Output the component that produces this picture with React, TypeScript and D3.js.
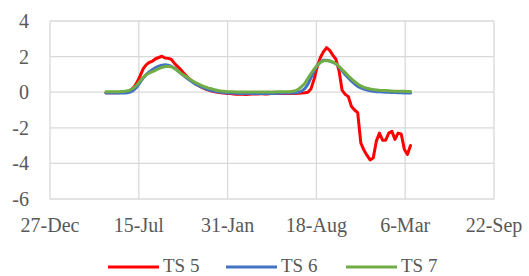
import React from "react";
import * as d3 from "d3";

const W = 529;
const H = 276;

// first observation and weekly step
const startDate = new Date(2019, 4, 2);
const stepDays = 7;

const ts5 = [
  -0.03, -0.03, -0.03, -0.03, -0.03, -0.02, 0.0, 0.03, 0.12, 0.28,
  0.55, 0.92, 1.32, 1.55, 1.68, 1.75, 1.88, 1.95, 2.02, 1.92,
  1.9, 1.85, 1.63, 1.45, 1.28, 1.08, 0.9, 0.72, 0.58, 0.45,
  0.35, 0.26, 0.18, 0.12, 0.07, 0.03, 0.0, -0.03, -0.05, -0.07,
  -0.08, -0.1, -0.12, -0.12, -0.12, -0.13, -0.12, -0.1, -0.1, -0.1,
  -0.08, -0.1, -0.1, -0.08, -0.08, -0.07, -0.08, -0.08, -0.07, -0.07,
  -0.08, -0.07, -0.06, -0.05, -0.03, 0.0, 0.2, 0.75, 1.45, 1.95,
  2.28, 2.5, 2.35, 2.08, 1.85, 1.2, 0.1, -0.12, -0.25, -0.8,
  -1.0, -1.15, -2.85, -3.25, -3.55, -3.8, -3.7, -2.75, -2.3, -2.7,
  -2.7, -2.3, -2.2, -2.65, -2.3, -2.35, -3.2, -3.5, -3.0,
];

const ts6 = [
  -0.05, -0.05, -0.05, -0.05, -0.05, -0.05, -0.05, -0.03, 0.02, 0.12,
  0.3, 0.55, 0.8, 1.0, 1.15, 1.27, 1.38, 1.46, 1.52, 1.54,
  1.52, 1.46, 1.36, 1.22, 1.07, 0.93, 0.8, 0.67, 0.55, 0.44,
  0.35, 0.27, 0.2, 0.14, 0.09, 0.05, 0.02, 0.0, -0.02, -0.04,
  -0.05, -0.06, -0.06, -0.07, -0.07, -0.07, -0.07, -0.07, -0.07, -0.07,
  -0.07, -0.07, -0.07, -0.07, -0.07, -0.06, -0.06, -0.06, -0.05, -0.05,
  -0.05, -0.04, 0.0, 0.06, 0.2, 0.45, 0.82, 1.2, 1.5, 1.7,
  1.8, 1.8, 1.75, 1.68, 1.6, 1.42, 1.2, 0.98, 0.8, 0.62,
  0.46, 0.33, 0.24, 0.17, 0.12, 0.08, 0.05, 0.03, 0.02, 0.01,
  0.0, 0.0, -0.01, -0.02, -0.03, -0.03, -0.04, -0.05, -0.05,
];

const ts7 = [
  0.03, 0.03, 0.03, 0.03, 0.03, 0.04, 0.05, 0.08, 0.15, 0.25,
  0.42, 0.63, 0.83, 0.98, 1.08, 1.15, 1.24, 1.32, 1.39, 1.44,
  1.45, 1.43, 1.34, 1.22, 1.08, 0.96, 0.86, 0.73, 0.62, 0.52,
  0.44, 0.36, 0.29, 0.23, 0.19, 0.14, 0.1, 0.07, 0.05, 0.03,
  0.02, 0.02, 0.01, 0.01, 0.01, 0.01, 0.01, 0.01, 0.01, 0.01,
  0.01, 0.01, 0.01, 0.01, 0.01, 0.02, 0.02, 0.02, 0.02, 0.03,
  0.05, 0.08, 0.17, 0.32, 0.5, 0.78, 1.05, 1.3, 1.52, 1.68,
  1.76, 1.78, 1.75, 1.7, 1.6, 1.45, 1.27, 1.1, 0.92, 0.75,
  0.6, 0.46, 0.35, 0.27, 0.22, 0.18, 0.15, 0.13, 0.11, 0.1,
  0.09, 0.08, 0.07, 0.06, 0.06, 0.05, 0.05, 0.04, 0.04,
];

const seriesNames = ["TS 5", "TS 6", "TS 7"];
const seriesColors = ["#ff0000", "#4472c4", "#70ad47"];

const xTickLabels = ["27-Dec", "15-Jul", "31-Jan", "18-Aug", "6-Mar", "22-Sep"];
const xTickDates = [
  new Date(2018, 11, 27),
  new Date(2019, 6, 15),
  new Date(2020, 0, 31),
  new Date(2020, 7, 18),
  new Date(2021, 2, 6),
  new Date(2021, 8, 22),
];
const yTicks = [-6, -4, -2, 0, 2, 4];

const legendX = [108, 226, 346];

const font = '"Liberation Serif", "DejaVu Serif", serif';
const textStyle = { fontFamily: font, fontSize: "20px", fill: "#595959" };
const legendStyle = { fontFamily: font, fontSize: "19px", fill: "#595959" };

export default function App() {
  const x = d3
    .scaleTime()
    .domain([xTickDates[0], xTickDates[xTickDates.length - 1]])
    .range([50, 494]);
  const y = d3.scaleLinear().domain([-6, 4]).range([199, 21]);

  const dates = ts5.map((_, i) => d3.timeDay.offset(startDate, i * stepDays));
  const all = [ts5, ts6, ts7];

  const line = d3
    .line<number>()
    .x((_, i) => x(dates[i]))
    .y((d) => y(d));

  return (
    <svg width={W} height={H} style={{ position: "absolute", left: 0, top: 0, background: "#fff" }}>
      {/* grid */}
      {yTicks.map((t) => (
        <line key={"h" + t} x1={50} x2={494} y1={y(t)} y2={y(t)} stroke="#d9d9d9" strokeWidth={1.3} />
      ))}
      {xTickDates.map((d, i) => (
        <line key={"v" + i} x1={x(d)} x2={x(d)} y1={21} y2={199} stroke="#d9d9d9" strokeWidth={1.3} />
      ))}
      {/* y labels */}
      {yTicks.map((t) => (
        <text key={"yl" + t} x={29} y={y(t) + 7} textAnchor="end" style={textStyle}>
          {t}
        </text>
      ))}
      {/* x labels */}
      {xTickDates.map((d, i) => (
        <text key={"xl" + i} x={x(d)} y={232} textAnchor="middle" style={textStyle}>
          {xTickLabels[i]}
        </text>
      ))}
      {/* series */}
      {all.map((s, i) => (
        <path
          key={"s" + i}
          d={line(s) || ""}
          fill="none"
          stroke={seriesColors[i]}
          strokeWidth={3}
          strokeLinejoin="round"
          strokeLinecap="round"
        />
      ))}
      {/* legend */}
      {seriesNames.map((n, i) => (
        <g key={"lg" + i}>
          <line x1={legendX[i]} x2={legendX[i] + 51} y1={267} y2={267} stroke={seriesColors[i]} strokeWidth={3} />
          <text x={legendX[i] + 55} y={271.5} style={legendStyle}>
            {n}
          </text>
        </g>
      ))}
    </svg>
  );
}
